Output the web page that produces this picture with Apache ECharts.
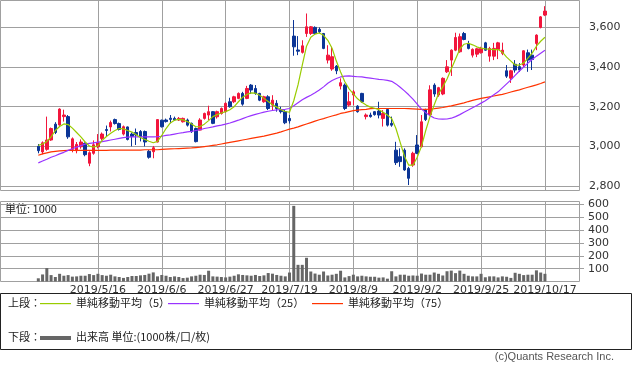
<!DOCTYPE html>
<html><head><meta charset="utf-8">
<script src="https://cdn.jsdelivr.net/npm/echarts@6/dist/echarts.min.js"></script>
<style>html,body{margin:0;padding:0;background:#fff;}#c{width:633px;height:373px;}</style>
</head><body><div id="c"></div>
<script>
const dates = ['2019/4/18','2019/4/19','2019/4/22','2019/4/23','2019/4/24','2019/4/25','2019/4/26','2019/5/7','2019/5/8','2019/5/9','2019/5/10','2019/5/13','2019/5/14','2019/5/15',
'2019/5/16','2019/5/17','2019/5/20','2019/5/21','2019/5/22','2019/5/23','2019/5/24','2019/5/27','2019/5/28','2019/5/29','2019/5/30','2019/5/31','2019/6/3','2019/6/4','2019/6/5',
'2019/6/6','2019/6/7','2019/6/10','2019/6/11','2019/6/12','2019/6/13','2019/6/14','2019/6/17','2019/6/18','2019/6/19','2019/6/20','2019/6/21','2019/6/24','2019/6/25','2019/6/26',
'2019/6/27','2019/6/28','2019/7/1','2019/7/2','2019/7/3','2019/7/4','2019/7/5','2019/7/8','2019/7/9','2019/7/10','2019/7/11','2019/7/12','2019/7/16','2019/7/17','2019/7/18',
'2019/7/19','2019/7/22','2019/7/23','2019/7/24','2019/7/25','2019/7/26','2019/7/29','2019/7/30','2019/7/31','2019/8/1','2019/8/2','2019/8/5','2019/8/6','2019/8/7','2019/8/8',
'2019/8/9','2019/8/13','2019/8/14','2019/8/15','2019/8/16','2019/8/19','2019/8/20','2019/8/21','2019/8/22','2019/8/23','2019/8/26','2019/8/27','2019/8/28','2019/8/29','2019/8/30',
'2019/9/2','2019/9/3','2019/9/4','2019/9/5','2019/9/6','2019/9/9','2019/9/10','2019/9/11','2019/9/12','2019/9/13','2019/9/17','2019/9/18','2019/9/19','2019/9/20','2019/9/24',
'2019/9/25','2019/9/26','2019/9/27','2019/9/30','2019/10/1','2019/10/2','2019/10/3','2019/10/4','2019/10/7','2019/10/8','2019/10/9','2019/10/10','2019/10/11','2019/10/15','2019/10/16',
'2019/10/17'];

const openP = [3000,2972,2985,3032,3112,3108,3150,3150,2985,2978,2998,3015,2915,2965,
2998,3040,3085,3098,3135,3115,3062,3098,3062,3070,3075,3075,2975,2973,3022,
3132,3133,3142,3141,3133,3124,3133,3116,3090,3082,3141,3158,3175,3149,3166,
3175,3225,3225,3242,3267,3242,3309,3292,3267,3225,3250,3208,3217,3186,3175,
3141,3556,3486,3474,3569,3569,3600,3590,3569,3435,3390,3405,3304,3309,3208,
3259,3203,3267,3150,3158,3175,3178,3141,3186,3116,2981,2948,2981,2889,2906,
3007,2998,3183,3160,3309,3259,3264,3376,3435,3485,3477,3569,3519,3460,3465,
3472,3522,3455,3455,3489,3469,3381,3344,3414,3402,3410,3472,3460,3519,3600,
3662];
const highP = [3012,3025,3150,3095,3122,3192,3185,3158,3045,3022,3035,3020,2975,3030,
3062,3070,3105,3130,3140,3120,3105,3100,3070,3090,3082,3080,2982,3002,3137,
3135,3140,3158,3150,3148,3145,3140,3120,3095,3142,3170,3205,3178,3180,3196,
3222,3245,3255,3272,3275,3305,3314,3309,3270,3255,3258,3258,3233,3200,3183,
3158,3637,3556,3535,3670,3607,3605,3600,3572,3510,3502,3410,3343,3317,3275,
3284,3208,3270,3166,3170,3178,3225,3183,3190,3150,3023,2990,2990,2897,2973,
3057,3158,3190,3308,3318,3300,3348,3435,3489,3573,3569,3577,3532,3494,3497,
3502,3527,3502,3522,3527,3523,3410,3386,3435,3420,3485,3488,3488,3565,3657,
3707];
const lowP = [2965,2960,2978,3028,3062,3104,3125,3038,2970,2965,2988,2950,2900,2958,
2990,3030,3050,3075,3110,3080,3055,3030,3000,3007,3025,3000,2938,2940,3020,
3095,3120,3116,3128,3128,3120,3100,3068,3020,3080,3135,3133,3112,3140,3160,
3170,3195,3218,3238,3205,3238,3264,3260,3228,3220,3183,3183,3175,3166,3112,
3115,3457,3460,3468,3552,3562,3565,3570,3490,3418,3381,3364,3287,3183,3200,
3208,3170,3220,3136,3145,3155,3141,3100,3100,3099,2906,2897,2877,2805,2897,
2961,2995,3128,3155,3250,3250,3258,3370,3355,3480,3472,3535,3489,3448,3450,
3468,3482,3427,3435,3440,3460,3345,3320,3372,3375,3400,3376,3385,3485,3595,
3657];
const closeP = [2978,3018,3032,3090,3070,3188,3158,3048,3038,3010,3022,2958,2968,3008,
3018,3062,3080,3120,3115,3085,3099,3035,3050,3058,3050,3022,2945,2993,3135,
3099,3125,3136,3133,3141,3141,3107,3074,3024,3133,3166,3175,3116,3175,3191,
3217,3200,3250,3267,3213,3292,3284,3267,3233,3250,3191,3233,3191,3175,3119,
3129,3502,3480,3507,3603,3603,3569,3578,3494,3460,3452,3381,3321,3191,3225,
3275,3175,3225,3158,3150,3160,3158,3166,3107,3107,2918,2923,2881,2839,2965,
2965,3124,3135,3285,3264,3296,3343,3401,3485,3549,3553,3539,3494,3489,3492,
3494,3485,3494,3494,3522,3485,3354,3381,3385,3385,3482,3435,3438,3561,3653,
3682];
const volume = [25,55,105,50,35,60,45,50,38,40,45,45,58,50,
60,50,45,53,40,35,28,35,43,43,48,51,61,71,40,
51,45,35,40,35,27,30,40,45,53,51,84,40,38,35,
32,38,45,56,51,48,45,51,43,48,66,61,51,45,40,
70,590,130,130,185,78,62,53,78,47,53,60,84,32,42,
53,40,45,40,37,37,30,32,22,80,40,53,53,45,47,
45,62,53,53,70,60,47,80,85,65,85,60,45,40,40,
60,33,40,40,32,40,37,28,68,60,50,53,53,87,70,
60];
const ma5 = [3005,3012,3025,3048,3080,3100,3113,3110,3092,3070,3048,3022,3002,2996,
3003,3030,3050,3066,3080,3090,3088,3080,3072,3058,3045,3035,3026,3018,3025,
3055,3090,3118,3132,3136,3134,3125,3113,3099,3100,3112,3130,3150,3160,3168,
3175,3185,3200,3225,3248,3262,3270,3268,3258,3242,3226,3210,3198,3185,3176,
3172,3230,3310,3410,3505,3550,3566,3572,3560,3535,3495,3430,3375,3326,3290,
3265,3240,3222,3208,3198,3192,3185,3172,3158,3140,3090,3020,2950,2905,2905,
2945,3000,3080,3150,3210,3265,3300,3340,3390,3440,3490,3515,3520,3512,3502,
3495,3492,3490,3488,3488,3475,3450,3430,3410,3410,3420,3445,3470,3505,3530,
3550];
const ma25 = [2917,2926,2935,2945,2953,2962,2970,2980,2988,2996,3004,3011,3015,3018,
3021,3024,3028,3032,3036,3040,3044,3047,3048,3048,3048,3048,3048,3048,3049,
3051,3055,3058,3062,3066,3069,3073,3076,3080,3084,3090,3094,3098,3103,3107,
3112,3118,3125,3132,3140,3148,3155,3161,3167,3173,3177,3181,3184,3186,3187,
3191,3205,3220,3235,3247,3258,3270,3284,3300,3318,3332,3342,3350,3354,3355,
3353,3351,3350,3347,3344,3341,3338,3336,3333,3328,3315,3298,3280,3260,3238,
3213,3188,3170,3155,3143,3138,3137,3138,3142,3150,3160,3172,3183,3195,3206,
3218,3230,3245,3260,3275,3295,3315,3335,3358,3380,3400,3420,3438,3455,3470,
3485];
const ma75 = [2955,2962,2967,2972,2975,2977,2979,2980,2980,2980,2980,2980,2980,2980,
2980,2980,2980,2981,2981,2981,2981,2981,2981,2981,2981,2983,2983,2983,2983,
2985,2986,2987,2988,2989,2990,2991,2992,2994,2996,2999,3002,3005,3008,3012,
3016,3020,3024,3028,3032,3036,3040,3044,3048,3052,3057,3062,3067,3073,3080,
3087,3092,3098,3106,3113,3120,3127,3134,3140,3147,3153,3159,3166,3170,3175,
3180,3183,3185,3187,3190,3191,3191,3191,3191,3191,3191,3191,3191,3190,3189,
3188,3187,3187,3188,3190,3193,3196,3200,3204,3209,3214,3219,3226,3232,3237,
3242,3246,3250,3254,3258,3262,3268,3274,3280,3285,3292,3298,3304,3310,3317,
3325];

const tickDates = ['2019/5/16','2019/6/6','2019/6/27','2019/7/19','2019/8/9','2019/9/2','2019/9/25','2019/10/17'];
const priceTicks = [2800,3000,3200,3400,3600];
const volTicks = [100,200,300,400,500,600];
const padBefore = 9, padAfter = 8;

const cats = [];
for (let i = 0; i < padBefore; i++) cats.push('_a' + i);
dates.forEach(d => cats.push(d));
for (let i = 0; i < padAfter; i++) cats.push('_b' + i);
const pad = n => Array(n).fill('-');
const wrap = arr => pad(padBefore).concat(arr).concat(pad(padAfter));

const candleData = wrap(dates.map((d, i) => [openP[i], closeP[i], lowP[i], highP[i]]));

const UP = '#f2163c', DOWN = '#0b3596', GRIDC = '#a0a0a0';
const C5 = '#99cc00', C25 = '#9933ff', C75 = '#ff3300';
const FONT = 'DejaVu Sans, Noto Sans CJK JP, sans-serif';
const JFONT = 'Noto Sans CJK JP, sans-serif';
const isTick = (i, v) => tickDates.indexOf(v) >= 0;
const priceLineColors = [];
for (let i = 0; i < 10; i++) priceLineColors.push(i === 1 ? GRIDC : 'rgba(0,0,0,0)');

const chart = echarts.init(document.getElementById('c'), null, {renderer: 'canvas'});
chart.setOption({
  animation: false,
  textStyle: {fontFamily: FONT},
  grid: [
    {left: -0.5, top: 1, width: 579.5, height: 189, show: false},
    {left: -0.5, top: 201, width: 579.5, height: 80.5, show: false}
  ],
  xAxis: [
    {type: 'category', gridIndex: 0, data: cats, boundaryGap: false,
     axisLine: {show: false}, axisTick: {show: false}, axisLabel: {show: false},
     splitLine: {show: true, interval: isTick, lineStyle: {color: GRIDC, width: 1}}},
    {type: 'category', gridIndex: 1, data: cats, boundaryGap: false,
     axisLine: {show: false}, axisTick: {show: false},
     axisLabel: {show: true, interval: isTick, color: '#333', fontSize: 11, margin: 3, fontFamily: FONT},
     splitLine: {show: true, interval: isTick, lineStyle: {color: GRIDC, width: 1}}}
  ],
  yAxis: [
    {type: 'value', gridIndex: 0, position: 'right', min: 2780, max: 3733, interval: 20,
     axisLine: {show: false}, axisTick: {show: false},
     axisLabel: {color: '#333', fontSize: 11, margin: 10, fontFamily: FONT,
       formatter: v => priceTicks.indexOf(v) >= 0 ? v.toLocaleString('en-US') : ''},
     splitLine: {show: true, lineStyle: {color: priceLineColors, width: 1}}},
    {type: 'value', gridIndex: 1, position: 'right', min: 0, max: 628, interval: 100,
     axisLine: {show: false},
     axisTick: {show: true, length: 5, customValues: volTicks, lineStyle: {color: GRIDC}},
     axisLabel: {color: '#333', fontSize: 11, margin: 9, fontFamily: FONT, customValues: volTicks,
       formatter: v => volTicks.indexOf(v) >= 0 ? String(v) : ''},
     splitLine: {show: true, lineStyle: {color: GRIDC, width: 1}}}
  ],
  series: [
    {type: 'candlestick', xAxisIndex: 0, yAxisIndex: 0, data: candleData, barWidth: 3,
     itemStyle: {color: UP, color0: DOWN, borderColor: UP, borderColor0: DOWN, borderWidth: 1}, silent: true},
    {type: 'line', xAxisIndex: 0, yAxisIndex: 0, data: wrap(ma75), showSymbol: false, symbol: 'none',
     lineStyle: {color: C75, width: 1.2}, silent: true},
    {type: 'line', xAxisIndex: 0, yAxisIndex: 0, data: wrap(ma25), showSymbol: false, symbol: 'none',
     lineStyle: {color: C25, width: 1.2}, silent: true},
    {type: 'line', xAxisIndex: 0, yAxisIndex: 0, data: wrap(ma5), showSymbol: false, symbol: 'none',
     lineStyle: {color: C5, width: 1.2}, silent: true},
    {type: 'bar', xAxisIndex: 1, yAxisIndex: 1, data: wrap(volume), barWidth: 3,
     itemStyle: {color: '#666666'}, silent: true}
  ],
  graphic: [
    {type: 'rect', shape: {x: 0.5, y: 0.5, width: 579, height: 190}, style: {fill: 'none', stroke: GRIDC, lineWidth: 1}, silent: true},
    {type: 'rect', shape: {x: 0.5, y: 201.5, width: 579, height: 80}, style: {fill: 'none', stroke: GRIDC, lineWidth: 1}, silent: true},
    {type: 'text', left: 5, top: 203, style: {text: '単位: 1000', fill: '#222', font: '11px ' + JFONT}},
    {type: 'rect', shape: {x: 0.5, y: 293.5, width: 631, height: 56}, style: {fill: 'none', stroke: '#222', lineWidth: 1}, silent: true},
    {type: 'text', left: 8, top: 297, style: {text: '上段：', fill: '#222', font: '11px ' + JFONT}},
    {type: 'rect', shape: {x: 40, y: 303, width: 31, height: 1.2}, style: {fill: C5}},
    {type: 'text', left: 76, top: 297, style: {text: '単純移動平均（5）', fill: '#222', font: '11px ' + JFONT}},
    {type: 'rect', shape: {x: 168, y: 303, width: 31, height: 1.2}, style: {fill: C25}},
    {type: 'text', left: 204, top: 297, style: {text: '単純移動平均（25）', fill: '#222', font: '11px ' + JFONT}},
    {type: 'rect', shape: {x: 312, y: 303, width: 31, height: 1.2}, style: {fill: C75}},
    {type: 'text', left: 348, top: 297, style: {text: '単純移動平均（75）', fill: '#222', font: '11px ' + JFONT}},
    {type: 'text', left: 8, top: 331, style: {text: '下段：', fill: '#222', font: '11px ' + JFONT}},
    {type: 'rect', shape: {x: 40, y: 336, width: 31, height: 4}, style: {fill: '#666666'}},
    {type: 'text', left: 76, top: 331, style: {text: '出来高 単位:(1000株/口/枚)', fill: '#222', font: '11px ' + JFONT}},
    {type: 'text', right: 19, top: 351, style: {text: '(c)Quants Research Inc.', fill: '#555', font: '11px Liberation Sans, sans-serif'}}
  ]
});
</script>
</body></html>
